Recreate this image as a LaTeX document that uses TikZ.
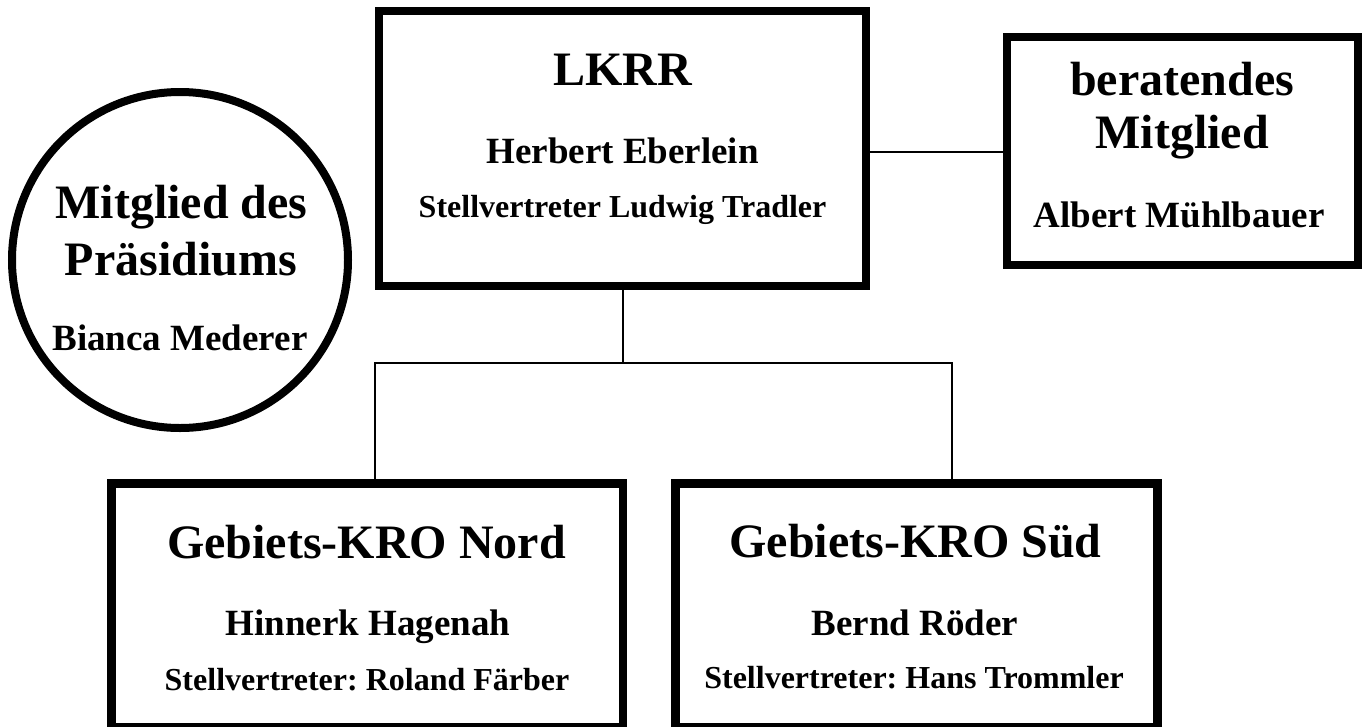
\documentclass[tikz,border=0pt]{standalone}
\usepackage{fontspec}
\setmainfont{Liberation Serif}
\frenchspacing
\begin{document}
\begin{tikzpicture}[x=1pt,y=-1pt,
  box/.style={draw=black,line width=8.5pt,rectangle,inner sep=0pt,fill=white},
  ring/.style={draw=black,line width=8pt,circle,inner sep=0pt,fill=white},
  conn/.style={draw=black,line width=2pt},
  ttl/.style={anchor=base,inner sep=0pt,font=\fontsize{48}{48}\selectfont\bfseries},
  nm/.style={anchor=base,inner sep=0pt,font=\fontsize{37}{37}\selectfont\bfseries},
  dep/.style={anchor=base,inner sep=0pt,font=\fontsize{32}{32}\selectfont\bfseries}]
\useasboundingbox (0,0) rectangle (1362,726);
\fill[white] (0,0) rectangle (1362,726);
% junction coordinates
\coordinate (jl) at (375,363);
\coordinate (jm) at (623,363);
\coordinate (jr) at (952,363);
% shapes
\node[box,minimum width=487pt,minimum height=275pt] (lkrr) at (622.5,148.5) {};
\node[box,minimum width=351pt,minimum height=228pt] (berat) at (1182.5,151) {};
\node[ring,minimum size=336pt] (praes) at (180,260) {};
\node[box,minimum width=511.5pt,minimum height=244pt] (nord) at (367,605.5) {};
\node[box,minimum width=482pt,minimum height=244pt] (sued) at (916.5,605.5) {};
% connectors
\draw[conn] (lkrr.east |- 0,152) -- (berat.west |- 0,152);
\draw[conn] (jm |- lkrr.south) -- (jm);
\draw[conn] (jl |- nord.north) -- (jl) -- (jr) -- (jr |- sued.north);
% texts
\node[ttl] (t1) at (622.5,85) {LKRR};
\node[nm]  (t2) at (622.5,163) {Herbert Eberlein};
\node[dep] (t3) at (622.5,217) {Stellvertreter Ludwig Tradler};
\node[ttl] (b1) at (1182,95) {beratendes};
\node[ttl] (b2) at (1182,148) {Mitglied};
\node[nm]  (b3) at (1179,227) {Albert Mühlbauer};
\node[ttl] (p1) at (181.5,218) {Mitglied des};
\node[ttl] (p2) at (181,275) {Präsidiums};
\node[nm]  (p3) at (180,350) {Bianca Mederer};
\node[ttl] (n1) at (366.5,558) {Gebiets-KRO Nord};
\node[nm]  (n2) at (368,635) {Hinnerk Hagenah};
\node[dep] (n3) at (367,690) {Stellvertreter: Roland Färber};
\node[ttl] (s1) at (915.5,557) {Gebiets-KRO Süd};
\node[nm]  (s2) at (915,635) {Bernd Röder};
\node[dep] (s3) at (914,688) {Stellvertreter: Hans Trommler};
\end{tikzpicture}
\end{document}
